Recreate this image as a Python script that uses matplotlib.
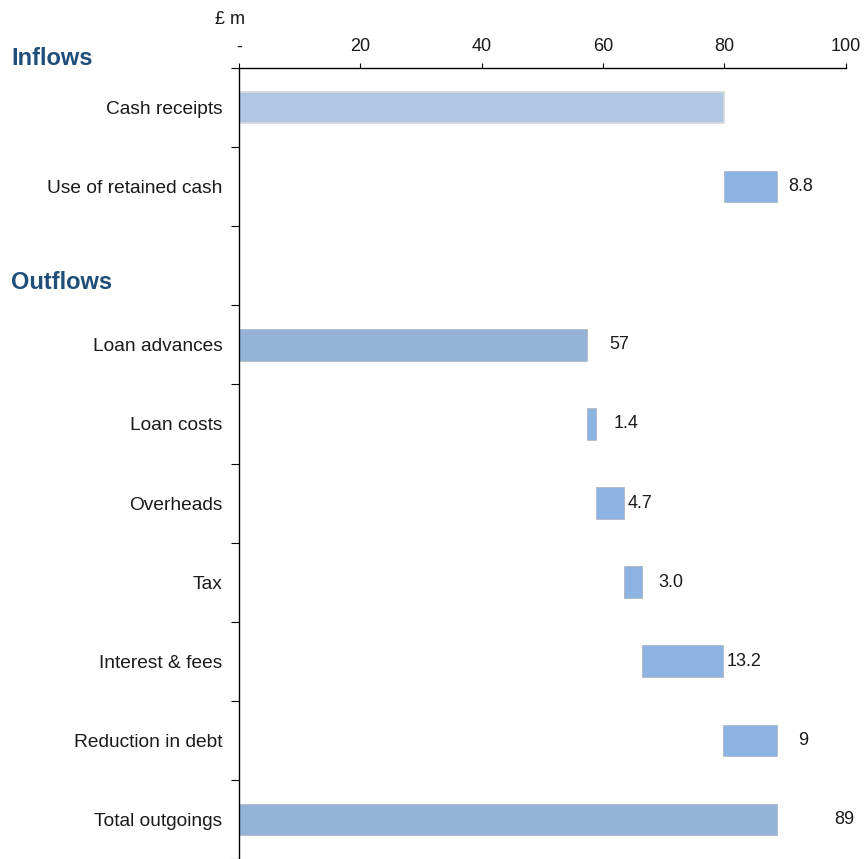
import matplotlib.pyplot as plt
import numpy as np

plt.rcParams['font.family'] = ['Liberation Sans', 'DejaVu Sans']

# rows of the waterfall (blank string = spacer row for the "Outflows" heading)
categories = ["Cash receipts", "Use of retained cash", "",
              "Loan advances", "Loan costs", "Overheads", "Tax",
              "Interest & fees", "Reduction in debt", "Total outgoings"]
values = [79.9, 8.8, 0, 57.4, 1.4, 4.7, 3.0, 13.2, 9.0, 88.7]
# bars that start from zero rather than floating on the running total
from_zero = [True, False, None, True, False, False, False, False, False, True]
value_labels = ["", "8.8", "", "57", "1.4", "4.7", "3.0", "13.2", "9", "89"]
xticks = [0, 20, 40, 60, 80, 100]
xticklabels = ["-", "20", "40", "60", "80", "100"]

# label gap (in pixels) to the right of each bar end, as in the original
label_gap = [0, 11, 0, 22, 18, 3, 16, 4, 21, 57]

fig = plt.figure(figsize=(8.66, 8.59), dpi=100)
ax = fig.add_axes([0.276, 0.0, 0.7005, 0.9208])

running = 0.0
for i, (cat, v, fz) in enumerate(zip(categories, values, from_zero)):
    if fz is None:
        running = 0.0
        continue
    left = 0.0 if fz else running
    y = i + 0.5
    if i == 0:
        ax.barh(y, v, left=left, height=0.4, color="#B0C6E5",
                edgecolor="#D9D9D9", linewidth=1.2)
    elif fz:
        ax.barh(y, v, left=left, height=0.4, color="#95B3D7",
                edgecolor="#A6A6A6", linewidth=0.4)
    else:
        ax.barh(y, v, left=left, height=0.4, color="#8DB3E2",
                edgecolor="#A6A6A6", linewidth=0.4)
    running = left + v
    if value_labels[i]:
        ax.annotate(value_labels[i], (left + v, y), xytext=(label_gap[i] * 0.72, 0),
                    textcoords="offset points", va="center", ha="left",
                    fontsize=13, color="#1a1a1a")

ax.set_xlim(0, 100)
ax.set_ylim(10, 0)
ax.xaxis.tick_top()
ax.set_xticks(xticks)
ax.set_xticklabels(xticklabels, fontsize=13, color="#1a1a1a")
ax.tick_params(axis="x", length=3.6, width=0.8, direction="out", pad=5.5)

ax.set_yticks(np.arange(0, 11))
ax.set_yticklabels([])
ax.set_yticks(np.arange(10) + 0.5, minor=True)
ax.set_yticklabels(categories, minor=True, fontsize=13.8, color="#1a1a1a")
ax.tick_params(axis="y", which="major", length=6, width=0.8, direction="out")
ax.tick_params(axis="y", which="minor", length=0, pad=12)

for s in ["right", "bottom"]:
    ax.spines[s].set_visible(False)
for s in ["top", "left"]:
    ax.spines[s].set_linewidth(1.0)
    ax.spines[s].set_color("black")

fig.text(0.266, 0.977, "£ m", ha="center", va="center", fontsize=13, color="#1a1a1a")
fig.text(0.013, 0.932, "Inflows", ha="left", va="center", fontsize=17,
         fontweight="bold", color="#1F4E79")
fig.text(0.013, 0.671, "Outflows", ha="left", va="center", fontsize=17,
         fontweight="bold", color="#1F4E79")

fig.savefig("out.png", dpi=100)
